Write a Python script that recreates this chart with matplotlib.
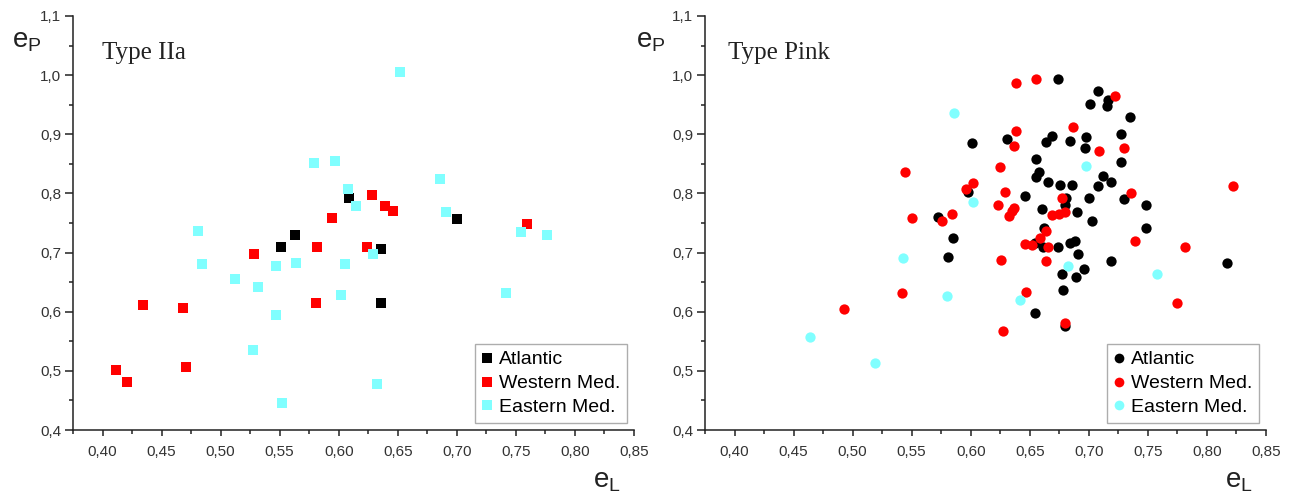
import matplotlib.pyplot as plt
from matplotlib.ticker import MultipleLocator, FuncFormatter
from matplotlib.lines import Line2D

# --- data: Type IIa (squares) ---
iia_atl_x = [0.551, 0.563, 0.609, 0.636, 0.636, 0.700]
iia_atl_y = [0.710, 0.730, 0.793, 0.706, 0.615, 0.756]
iia_wmed_x = [0.411, 0.421, 0.434, 0.468, 0.471, 0.528, 0.581, 0.582, 0.594, 0.624, 0.628, 0.639, 0.646, 0.759]
iia_wmed_y = [0.502, 0.481, 0.612, 0.607, 0.507, 0.697, 0.614, 0.710, 0.758, 0.709, 0.798, 0.778, 0.770, 0.749]
iia_emed_x = [0.481, 0.484, 0.512, 0.527, 0.532, 0.547, 0.547, 0.552, 0.564, 0.579, 0.597, 0.602,
              0.605, 0.608, 0.615, 0.629, 0.632, 0.652, 0.686, 0.691, 0.742, 0.754, 0.776]
iia_emed_y = [0.737, 0.680, 0.656, 0.536, 0.641, 0.678, 0.595, 0.446, 0.683, 0.851, 0.854, 0.629,
              0.680, 0.807, 0.778, 0.698, 0.478, 1.005, 0.825, 0.768, 0.632, 0.734, 0.730]

# --- data: Type Pink (circles) ---
pink_atl_x = [0.601, 0.598, 0.572, 0.585, 0.581, 0.674, 0.708, 0.716, 0.701, 0.715, 0.735, 0.631,
              0.727, 0.669, 0.664, 0.684, 0.698, 0.697, 0.727, 0.655, 0.658, 0.655, 0.665, 0.676,
              0.686, 0.712, 0.719, 0.708, 0.646, 0.681, 0.700, 0.730, 0.748, 0.680, 0.660, 0.690,
              0.703, 0.662, 0.654, 0.661, 0.674, 0.684, 0.688, 0.748, 0.719, 0.691, 0.696, 0.677,
              0.689, 0.678, 0.654, 0.680, 0.817]
pink_atl_y = [0.885, 0.802, 0.760, 0.725, 0.693, 0.993, 0.973, 0.958, 0.951, 0.948, 0.929, 0.892,
              0.900, 0.897, 0.887, 0.889, 0.895, 0.876, 0.853, 0.859, 0.836, 0.827, 0.819, 0.815,
              0.815, 0.829, 0.819, 0.813, 0.795, 0.793, 0.792, 0.790, 0.781, 0.780, 0.773, 0.768,
              0.754, 0.741, 0.717, 0.709, 0.710, 0.717, 0.720, 0.741, 0.686, 0.697, 0.673, 0.663,
              0.659, 0.636, 0.597, 0.576, 0.683]
pink_wmed_x = [0.544, 0.602, 0.596, 0.550, 0.576, 0.584, 0.542, 0.493, 0.638, 0.655, 0.722, 0.687,
               0.638, 0.637, 0.709, 0.730, 0.625, 0.822, 0.629, 0.736, 0.677, 0.623, 0.637, 0.635,
               0.632, 0.669, 0.675, 0.680, 0.664, 0.659, 0.646, 0.652, 0.665, 0.739, 0.781, 0.664,
               0.626, 0.775, 0.647, 0.680, 0.627]
pink_wmed_y = [0.836, 0.817, 0.807, 0.758, 0.753, 0.766, 0.632, 0.605, 0.986, 0.993, 0.964, 0.912,
               0.905, 0.880, 0.871, 0.876, 0.844, 0.812, 0.803, 0.801, 0.792, 0.780, 0.776, 0.770,
               0.761, 0.764, 0.766, 0.768, 0.737, 0.724, 0.715, 0.712, 0.709, 0.720, 0.710, 0.685,
               0.688, 0.614, 0.634, 0.581, 0.568]
pink_emed_x = [0.586, 0.602, 0.543, 0.580, 0.464, 0.519, 0.698, 0.682, 0.758, 0.642]
pink_emed_y = [0.936, 0.786, 0.690, 0.627, 0.558, 0.514, 0.847, 0.678, 0.664, 0.619]

labels = ["Atlantic", "Western Med.", "Eastern Med."]
colors = ["black", "#ff0000", "#80ffff"]

plt.rcParams['font.family'] = ['Liberation Sans', 'DejaVu Sans']
fig = plt.figure(figsize=(12.93, 4.94), dpi=100)

ax1 = fig.add_axes([73 / 1293, 1 - 430 / 494, 561 / 1293, 414 / 494])
ax2 = fig.add_axes([705 / 1293, 1 - 430 / 494, 561 / 1293, 414 / 494])

panels = [
    (ax1, 's', 42, "Type IIa", 0.052, -0.082,
     [(iia_atl_x, iia_atl_y), (iia_wmed_x, iia_wmed_y), (iia_emed_x, iia_emed_y)]),
    (ax2, 'o', 55, "Type Pink", 0.041, -0.096,
     [(pink_atl_x, pink_atl_y), (pink_wmed_x, pink_wmed_y), (pink_emed_x, pink_emed_y)]),
]

for ax, mk, size, title, tx, ylx, series in panels:
    for (xs, ys), c in zip(series, colors):
        ax.scatter(xs, ys, marker=mk, s=size, color=c, linewidths=0, zorder=3)

    ax.set_xlim(0.375, 0.85)
    ax.set_ylim(0.4, 1.1)
    ax.spines['top'].set_visible(False)
    ax.spines['right'].set_visible(False)
    for side in ['left', 'bottom']:
        ax.spines[side].set_linewidth(1.1)
        ax.spines[side].set_color('#222222')

    ax.xaxis.set_major_locator(MultipleLocator(0.05))
    ax.xaxis.set_minor_locator(MultipleLocator(0.025))
    ax.yaxis.set_major_locator(MultipleLocator(0.1))
    ax.yaxis.set_minor_locator(MultipleLocator(0.05))
    ax.xaxis.set_major_formatter(FuncFormatter(lambda v, p: f"{v:.2f}".replace('.', ',')))
    ax.yaxis.set_major_formatter(FuncFormatter(lambda v, p: f"{v:.1f}".replace('.', ',')))
    ax.tick_params(axis='both', which='major', direction='out', width=1.1, colors='#222222',
                   labelsize=11, labelcolor='#333333')
    ax.tick_params(axis='x', which='major', length=4.5, pad=6)
    ax.tick_params(axis='y', which='major', length=5.5, pad=3)
    ax.tick_params(axis='both', which='minor', direction='out', width=1.1, length=3, color='#222222')

    ax.text(tx, 0.896, title, transform=ax.transAxes, family='Liberation Serif',
            fontsize=18, color='#222222', va='baseline', ha='left')

    ax.set_ylabel(r'$\mathregular{e_P}$', fontsize=20, rotation=0, ha='center', va='baseline',
                  color='#222222')
    ax.yaxis.set_label_coords(ylx, 0.923)
    ax.set_xlabel(r'$\mathregular{e_L}$', fontsize=20, ha='right', va='baseline', color='#222222')
    ax.xaxis.set_label_coords(0.976, -0.140)

    # legend in a plain grey box, bottom right
    handles = [Line2D([0], [0], marker=mk, linestyle='none', color=c, markersize=7,
                      markeredgewidth=0) for c in colors]
    leg = ax.legend(handles, labels, loc='lower right', bbox_to_anchor=(0.9875, 0.017),
                    borderaxespad=0, fontsize=14, frameon=True, fancybox=False,
                    handlelength=0.6, handletextpad=0.3, borderpad=0.35, labelspacing=0.32)
    leg.get_frame().set_edgecolor('#999999')
    leg.get_frame().set_linewidth(1.0)

plt.savefig("out.png", dpi=100)
plt.close()
